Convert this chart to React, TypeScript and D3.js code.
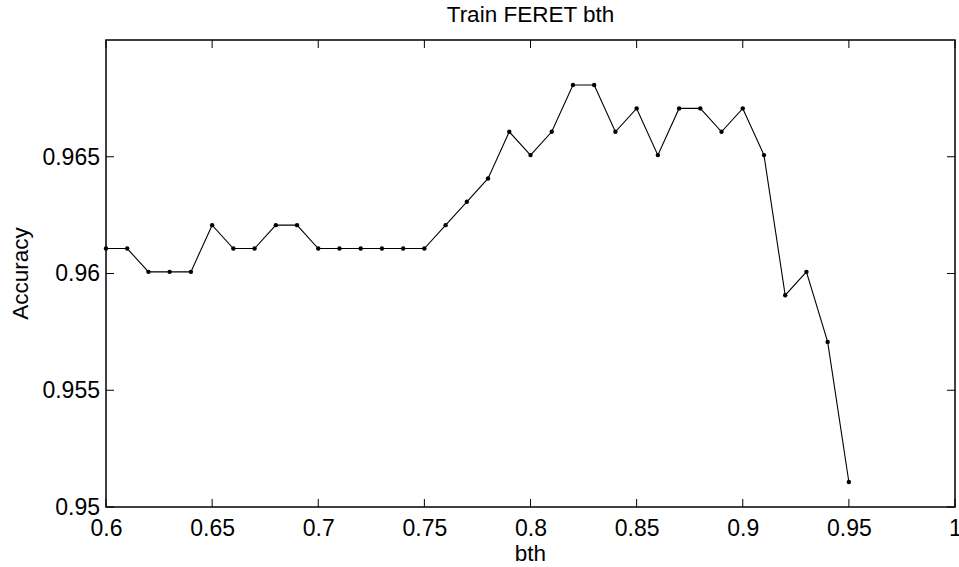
import React, { useEffect, useRef } from 'react'
import * as d3 from 'd3'

const width = 959
const height = 567
const margin = { top: 40, right: 4, bottom: 60, left: 106 }

// bth values (x) and accuracy (y)
const bth = [0.6, 0.61, 0.62, 0.63, 0.64, 0.65, 0.66, 0.67, 0.68, 0.69,
  0.7, 0.71, 0.72, 0.73, 0.74, 0.75, 0.76, 0.77, 0.78, 0.79,
  0.8, 0.81, 0.82, 0.83, 0.84, 0.85, 0.86, 0.87, 0.88, 0.89,
  0.9, 0.91, 0.92, 0.93, 0.94, 0.95]
const accuracy = [0.96107, 0.96107, 0.96007, 0.96007, 0.96007, 0.96207, 0.96107, 0.96107, 0.96207, 0.96207,
  0.96107, 0.96107, 0.96107, 0.96107, 0.96107, 0.96107, 0.96207, 0.96307, 0.96407, 0.96607,
  0.96507, 0.96607, 0.96807, 0.96807, 0.96607, 0.96707, 0.96507, 0.96707, 0.96707, 0.96607,
  0.96707, 0.96507, 0.95907, 0.96007, 0.95707, 0.95107]

const xTicks = [0.6, 0.65, 0.7, 0.75, 0.8, 0.85, 0.9, 0.95, 1]
const yTicks = [0.95, 0.955, 0.96, 0.965]

const title = 'Train FERET bth'
const xLabel = 'bth'
const yLabel = 'Accuracy'

const font = 'Liberation Sans, Arial, Helvetica, sans-serif'

export default function App() {
  const ref = useRef<SVGSVGElement>(null)

  useEffect(() => {
    const svg = d3.select(ref.current)
    svg.selectAll('*').remove()

    const x = d3.scaleLinear().domain([0.6, 1]).range([margin.left, width - margin.right])
    const y = d3.scaleLinear().domain([0.95, 0.97]).range([height - margin.bottom, margin.top])
    const x0 = margin.left, x1 = width - margin.right
    const y0 = height - margin.bottom, y1 = margin.top
    const tick = 8

    // bottom axis with labels, ticks pointing inwards
    const xAxis = d3.axisBottom(x).tickValues(xTicks).tickSize(0).tickPadding(13)
      .tickFormat(d => d3.format('')(+d))
    const gx = svg.append('g').attr('transform', `translate(0,${y0})`).call(xAxis)
    gx.select('.domain').remove()
    gx.selectAll('text').attr('font-family', font).attr('font-size', 23).attr('fill', '#000')

    const yAxis = d3.axisLeft(y).tickValues(yTicks).tickSize(0).tickPadding(6)
      .tickFormat(d => d3.format('')(+d))
    const gy = svg.append('g').attr('transform', `translate(${x0},0)`).call(yAxis)
    gy.select('.domain').remove()
    gy.selectAll('text').attr('font-family', font).attr('font-size', 23).attr('fill', '#000')
      .attr('dy', '0.32em')

    // inward ticks on all four sides
    const ticks = svg.append('g').attr('stroke', '#000').attr('stroke-width', 1)
    xTicks.forEach(t => {
      ticks.append('line').attr('x1', x(t)).attr('x2', x(t)).attr('y1', y0).attr('y2', y0 - tick)
      ticks.append('line').attr('x1', x(t)).attr('x2', x(t)).attr('y1', y1).attr('y2', y1 + tick)
    })
    yTicks.forEach(t => {
      ticks.append('line').attr('x1', x0).attr('x2', x0 + tick).attr('y1', y(t)).attr('y2', y(t))
      ticks.append('line').attr('x1', x1).attr('x2', x1 - tick).attr('y1', y(t)).attr('y2', y(t))
    })

    // frame
    svg.append('rect')
      .attr('x', x0).attr('y', y1).attr('width', x1 - x0).attr('height', y0 - y1)
      .attr('fill', 'none').attr('stroke', '#000').attr('stroke-width', 1.5)

    const pts = bth.map((b, i) => [b, accuracy[i]] as [number, number])
    const line = d3.line<[number, number]>().x(d => x(d[0])).y(d => y(d[1]))
    svg.append('path').attr('d', line(pts)).attr('fill', 'none')
      .attr('stroke', '#000').attr('stroke-width', 1.1)
    svg.append('g').selectAll('circle').data(pts).join('circle')
      .attr('cx', d => x(d[0])).attr('cy', d => y(d[1])).attr('r', 2.2).attr('fill', '#000')

    // TITLE
    svg.append('text').attr('x', (x0 + x1) / 2).attr('y', 22)
      .attr('font-family', font).attr('font-size', 22.5).attr('text-anchor', 'middle')
      .text(title)
    // X LABEL
    svg.append('text').attr('x', (x0 + x1) / 2).attr('y', 561)
      .attr('font-family', font).attr('font-size', 22.5).attr('text-anchor', 'middle')
      .text(xLabel)
    // Y LABEL
    svg.append('text').attr('transform', 'rotate(-90)')
      .attr('x', -(y0 + y1) / 2).attr('y', 28)
      .attr('font-family', font).attr('font-size', 22.5).attr('text-anchor', 'middle')
      .text(yLabel)
  }, [])

  return (
    <svg ref={ref} width={width} height={height}
      style={{ position: 'absolute', left: 0, top: 0, background: '#fff' }} />
  )
}
